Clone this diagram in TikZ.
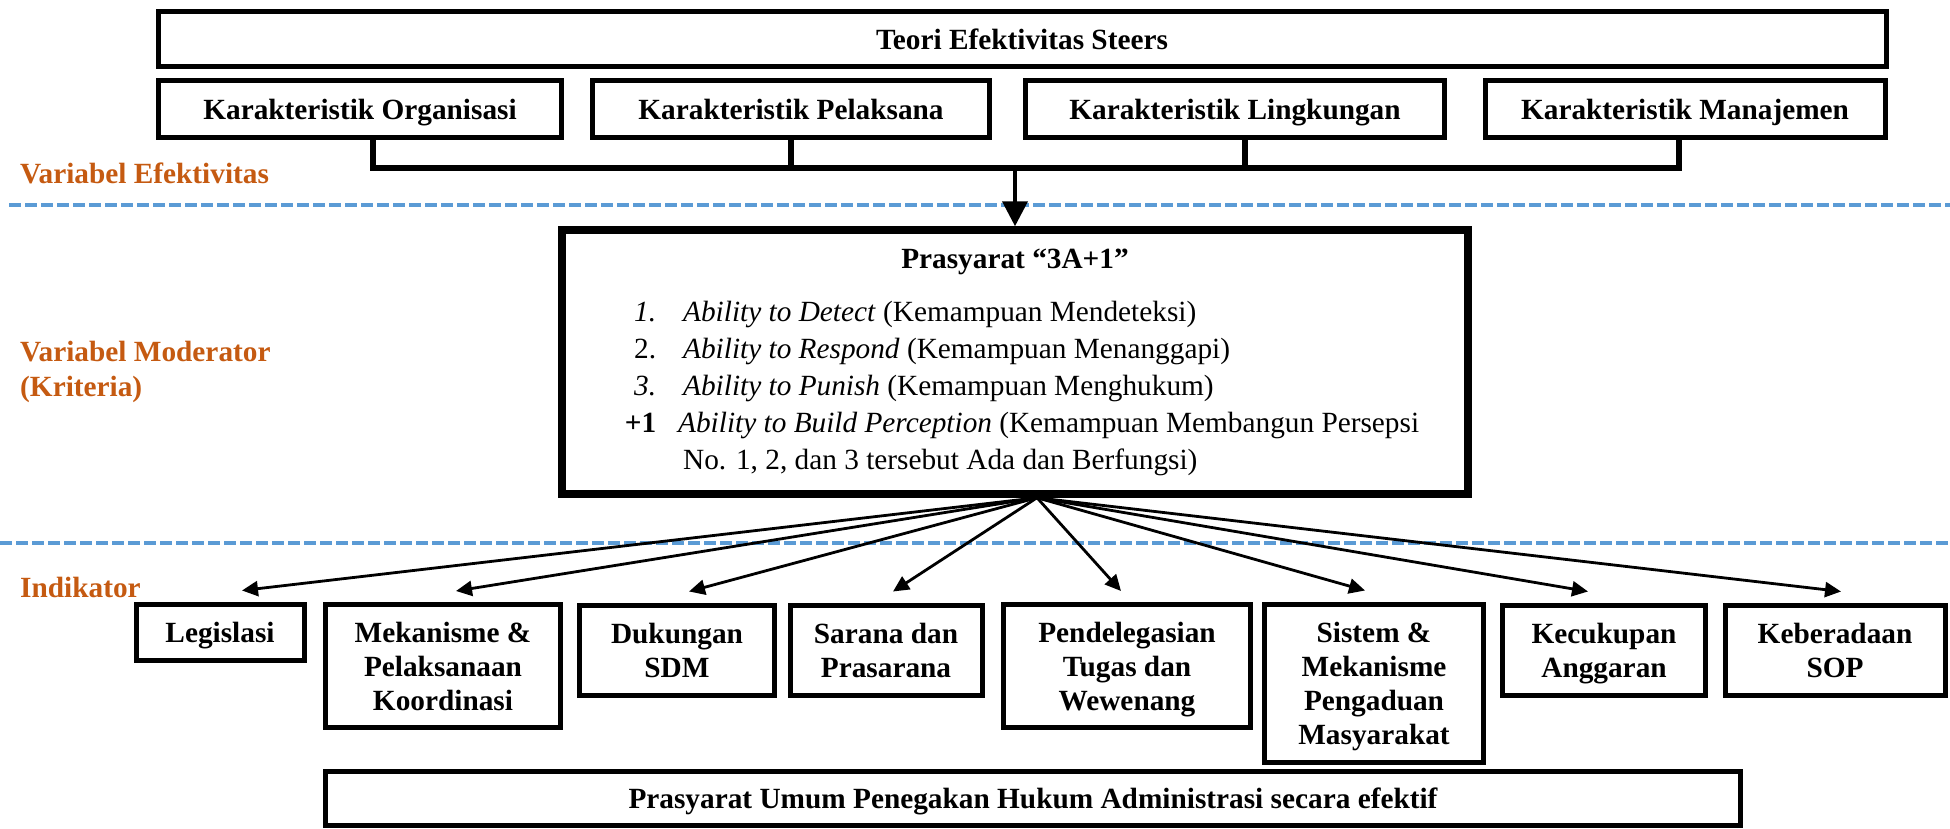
\documentclass[tikz,border=0pt]{standalone}
\usepackage{fontspec}
\setmainfont{Liberation Serif}[BoldFont={Liberation Serif Bold}, ItalicFont={Liberation Serif Italic}, BoldItalicFont={Liberation Serif Bold Italic}]
\usepackage{tikz}
\usetikzlibrary{arrows.meta}
\definecolor{oranye}{RGB}{197,90,17}
\definecolor{biru}{RGB}{91,155,213}

\begin{document}
\begin{tikzpicture}[x=1pt, y=-1pt,
kotak/.style={draw, line width=5pt, inner sep=0pt, align=center, text depth=0pt, font=\fontsize{29.3}{34}\selectfont\bfseries},
variabel/.style={anchor=west, inner sep=0pt, align=left, text=oranye, font=\fontsize{29.3}{35}\selectfont\bfseries},
garisbatas/.style={biru, line width=4pt, dash pattern=on 12pt off 4pt},
panah/.style={-{Triangle[length=16pt,width=15pt]}, line width=2.8pt}]

\useasboundingbox (0,0) rectangle (1950,829);

\draw[garisbatas] (9,205) -- (1950,205);
\draw[garisbatas] (0,543) -- (1950,543);

\node[variabel] (vef) at (20,173) {Variabel Efektivitas};
\node[variabel] (vmod) at (20,372) {Variabel Moderator\\(Kriteria)};
\node[variabel] (vind) at (20,587) {Indikator};

\node[kotak, minimum width=1728pt, minimum height=55pt] (teori) at (1022,39) {Teori Efektivitas Steers};
\node[kotak, minimum width=403pt, minimum height=57pt] (orgn) at (360,109) {Karakteristik Organisasi};
\node[kotak, minimum width=397pt, minimum height=57pt] (pelak) at (791,109) {Karakteristik Pelaksana};
\node[kotak, minimum width=419pt, minimum height=57pt] (lingk) at (1235,109) {Karakteristik Lingkungan};
\node[kotak, minimum width=400pt, minimum height=57pt] (manaj) at (1685,109) {Karakteristik Manajemen};

\node[draw, line width=7.5pt, minimum width=906pt, minimum height=264pt, inner sep=0pt, font=\fontsize{29.3}{37}\selectfont] (prasyarat) at (1015,362) {\begin{tabular}{@{\hspace{14pt}}r@{\hspace{27pt}}l@{}}
\multicolumn{2}{c}{\textbf{Prasyarat “3A+1”}}\\[16pt]
\textit{1.} & \textit{Ability to Detect} (Kemampuan Mendeteksi)\\
2. & \textit{Ability to Respond} (Kemampuan Menanggapi)\\
\textit{3.} & \textit{Ability to Punish} (Kemampuan Menghukum)\\
\textbf{+1} & \hspace{-5pt}\textit{Ability to Build Perception} (Kemampuan Membangun Persepsi\\
 & No. 1, 2, dan 3 tersebut Ada dan Berfungsi)
\end{tabular}};

\node[kotak, minimum width=168pt, minimum height=56pt] (legis) at (220,632) {Legislasi};
\node[kotak, minimum width=235pt, minimum height=123pt] (mekan) at (443,666) {Mekanisme \&\\Pelaksanaan\\Koordinasi};
\node[kotak, minimum width=195pt, minimum height=90pt] (sdm) at (677,650) {Dukungan\\SDM};
\node[kotak, minimum width=192pt, minimum height=90pt] (sarana) at (886,650) {Sarana dan\\Prasarana};
\node[kotak, minimum width=247pt, minimum height=123pt] (delegasi) at (1127,666) {Pendelegasian\\Tugas dan\\Wewenang};
\node[kotak, minimum width=219pt, minimum height=158pt] (sistem) at (1374,683) {Sistem \&\\Mekanisme\\Pengaduan\\Masyarakat};
\node[kotak, minimum width=203pt, minimum height=90pt] (anggaran) at (1604,650) {Kecukupan\\Anggaran};
\node[kotak, minimum width=220pt, minimum height=90pt] (sop) at (1835,650) {Keberadaan\\SOP};

\node[kotak, minimum width=1415pt, minimum height=54pt] (umum) at (1033,798) {Prasyarat Umum Penegakan Hukum Administrasi secara efektif};

\coordinate (simpul) at (1015,168);
\draw[line width=5.5pt] ([xshift=13pt]orgn.south) -- ([xshift=13pt]orgn.south |- simpul) -- ([xshift=-6pt]manaj.south |- simpul) -- ([xshift=-6pt]manaj.south);
\draw[line width=5.5pt] (pelak.south) -- (pelak.south |- simpul);
\draw[line width=5.5pt] ([xshift=10pt]lingk.south) -- ([xshift=10pt]lingk.south |- simpul);
\draw[line width=4pt, -{Triangle[length=25pt,width=25pt]}] (simpul) -- (prasyarat.north);

\coordinate (pusat) at ([xshift=22pt]prasyarat.south);
\foreach \k/\dx in {legis/22, mekan/13, sdm/12, sarana/7, delegasi/-6, sistem/-9, anggaran/-16, sop/6}
  \draw[panah] (pusat) -- ([xshift=\dx pt, yshift=11pt]\k.north);

\end{tikzpicture}
\end{document}
